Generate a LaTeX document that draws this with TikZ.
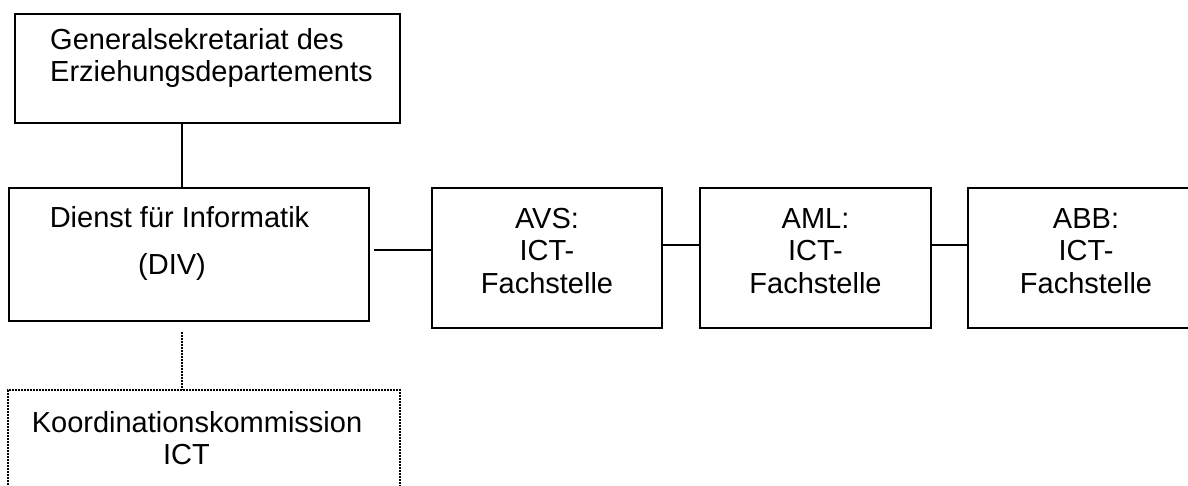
\documentclass[tikz,border=0pt]{standalone}
\usepackage{fontspec}
\setmainfont{Liberation Sans}
\begin{document}
\begin{tikzpicture}[x=1pt,y=-1pt,
  box/.style={draw=black,line width=1.8pt,inner sep=0pt,fill=white},
  dotbox/.style={box,line width=1.8pt,dash pattern=on 2pt off 1pt},
  conn/.style={draw=black,line width=1.8pt},
  dotconn/.style={draw=black,line width=1.8pt,dash pattern=on 2pt off 1pt},
  lbl/.style={inner sep=0pt,font=\fontsize{29}{33}\selectfont}]
\useasboundingbox (0,0) rectangle (1188,486);
\fill[white] (0,0) rectangle (1188,486);
\clip (0,0) rectangle (1188,486);
% boxes
\node[box,minimum width=385pt,minimum height=109pt] (gs) at (207.5,68.5) {};
\node[box,minimum width=360pt,minimum height=133pt] (div) at (189,254.5) {};
\node[box,minimum width=230pt,minimum height=140pt] (avs) at (547,258) {};
\node[box,minimum width=231pt,minimum height=140pt] (aml) at (815.5,258) {};
\node[box,minimum width=236pt,minimum height=140pt] (abb) at (1086,258) {};
\node[dotbox,minimum width=392pt,minimum height=140pt] (kk) at (204,460) {};
% connectors
\coordinate (t1) at (182,0);
\draw[conn] (gs.south -| t1) -- (div.north -| t1);
\coordinate (d1) at (374,250);
\draw[conn] (d1) -- (d1 -| avs.west);
\coordinate (a1) at (0,245);
\draw[conn] (avs.east |- a1) -- (aml.west |- a1);
\draw[conn] (aml.east |- a1) -- (abb.west |- a1);
\coordinate (k1) at (182,332);
\draw[dotconn] (k1) -- (k1 |- kk.north);
% labels
\node[lbl,anchor=base west] (gs1) at (50,50) {Generalsekretariat des};
\node[lbl,anchor=base west] (gs2) at (50,82) {Erziehungsdepartements};
\node[lbl,anchor=base] (div1) at (179.5,228) {Dienst für Informatik};
\node[lbl,anchor=base] (div2) at (172,274) {(DIV)};
\node[lbl,anchor=base] (avs1) at (547,229) {AVS:};
\node[lbl,anchor=base] (avs2) at (547,261) {ICT-};
\node[lbl,anchor=base] (avs3) at (547,293) {Fachstelle};
\node[lbl,anchor=base] (aml1) at (815.5,229) {AML:};
\node[lbl,anchor=base] (aml2) at (815.5,261) {ICT-};
\node[lbl,anchor=base] (aml3) at (815.5,293) {Fachstelle};
\node[lbl,anchor=base] (abb1) at (1086,229) {ABB:};
\node[lbl,anchor=base] (abb2) at (1086,261) {ICT-};
\node[lbl,anchor=base] (abb3) at (1086,293) {Fachstelle};
\node[lbl,anchor=base] (kk1) at (197,432) {Koordinationskommission};
\node[lbl,anchor=base] (kk2) at (186.5,464) {ICT};
\end{tikzpicture}
\end{document}
